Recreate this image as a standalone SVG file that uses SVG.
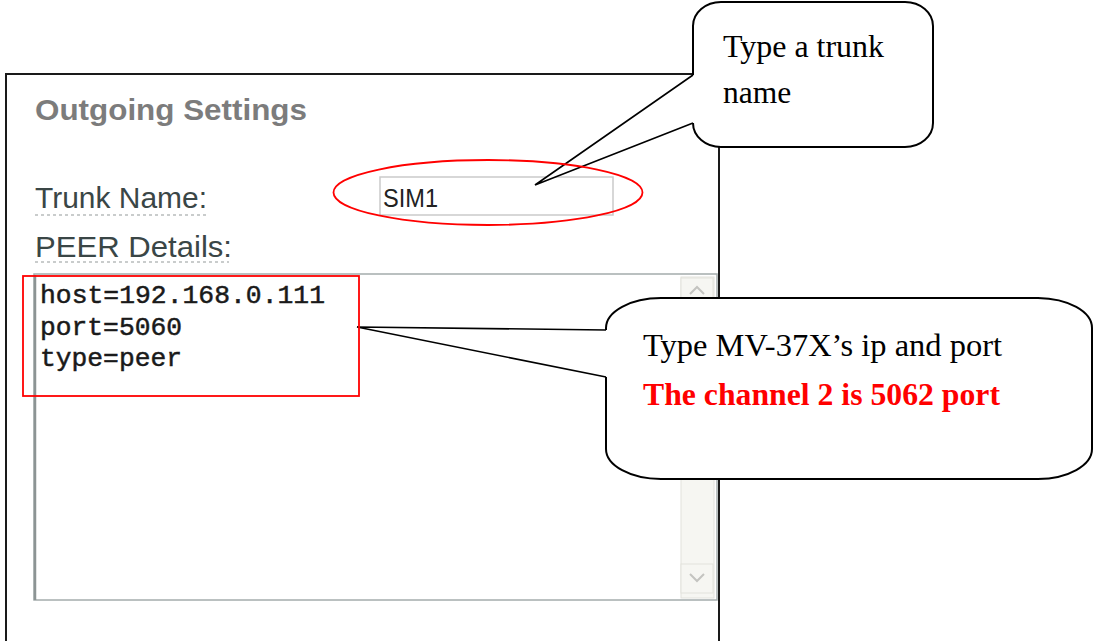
<svg xmlns="http://www.w3.org/2000/svg" width="1094" height="641" viewBox="0 0 1094 641">
<style>
.frame{fill:none;stroke:#1a1a1a;stroke-width:2}
.lbl{font-family:"Liberation Sans",Arial,sans-serif;fill:#3a4646;font-size:30px}
.mono{font-family:"Liberation Mono","Courier New",monospace;font-size:26px;fill:#1a1a1a;stroke:#1a1a1a;stroke-width:0.5}
.dots{stroke:#b8bcbc;stroke-width:1.5;stroke-dasharray:3 3}
.bubfill{fill:#fff;stroke:none}
.bubline{fill:none;stroke:#000;stroke-width:2;stroke-linejoin:round}
.ptr{fill:none;stroke:#000;stroke-width:1.6}
.ser{font-family:"Liberation Serif","Times New Roman",serif;font-size:31.5px;fill:#000}
.red{fill:#ff0000;font-weight:bold}
.hl{fill:none;stroke:#ff0000;stroke-width:1.8}
.sb{fill:#f6f6f2;stroke:#e2e2dc;stroke-width:1}
.chev{fill:none;stroke:#c4c4c0;stroke-width:2}
</style>
<rect width="1094" height="641" fill="#fff"/>
<g id="panel">
  <path class="frame" d="M6,641 V74 H719 V641"/>
  <text x="35" y="120" font-family="Liberation Sans,Arial,sans-serif" font-weight="bold" font-size="30" fill="#7c7c7c" textLength="272" lengthAdjust="spacingAndGlyphs">Outgoing Settings</text>
</g>
<g id="trunk-name">
  <text class="lbl" x="35" y="208" textLength="172" lengthAdjust="spacingAndGlyphs">Trunk Name:</text>
  <line class="dots" x1="35" y1="215" x2="206" y2="215"/>
  <rect x="380" y="177" width="233" height="38" fill="#fff" stroke="#cacaca" stroke-width="1.5"/>
  <text x="383" y="207" font-family="Liberation Sans,Arial,sans-serif" font-size="26" fill="#222" textLength="55" lengthAdjust="spacingAndGlyphs">SIM1</text>
</g>
<g id="peer-details">
  <text class="lbl" x="35" y="257" textLength="197" lengthAdjust="spacingAndGlyphs">PEER Details:</text>
  <line class="dots" x1="35" y1="262" x2="229" y2="262"/>
  <rect x="34" y="274" width="683" height="326" fill="#fff" stroke="#a4acac" stroke-width="1.5"/>
  <line x1="35" y1="275" x2="35" y2="600" stroke="#8c9494" stroke-width="2.5"/>
  <rect class="sb" x="681" y="277" width="33" height="321"/>
  <rect class="sb" x="681" y="278" width="32" height="24"/>
  <path class="chev" d="M690,294 L697,287 L704,294"/>
  <rect class="sb" x="681" y="564" width="32" height="29"/>
  <path class="chev" d="M690,574 L697,581 L704,574"/>
  <text class="mono" x="40" y="303" textLength="285" lengthAdjust="spacingAndGlyphs">host=192.168.0.111</text>
  <text class="mono" x="40" y="335" textLength="142" lengthAdjust="spacingAndGlyphs">port=5060</text>
  <text class="mono" x="40" y="366" textLength="142" lengthAdjust="spacingAndGlyphs">type=peer</text>
  <path class="frame" d="M719,274 V641"/>
</g>
<g id="callout-trunk">
  <path class="bubfill" d="M693,26 A28 24 0 0 1 721,2 H905 A28 24 0 0 1 933,26 V123 A28 24 0 0 1 905,147 H721 A28 24 0 0 1 693,123 L535,185 L693,75 Z"/>
  <path class="bubline" d="M693,75 V26 A28 24 0 0 1 721,2 H905 A28 24 0 0 1 933,26 V123 A28 24 0 0 1 905,147 H721 A28 24 0 0 1 693,123"/>
  <text class="ser" x="723" y="57" textLength="161" lengthAdjust="spacingAndGlyphs">Type a trunk</text>
  <text class="ser" x="723" y="103">name</text>
</g>
<g id="callout-peer">
  <path class="bubfill" d="M606,328 A55 30 0 0 1 661,298 H1038 A55 30 0 0 1 1092,328 V449 A55 30 0 0 1 1038,479 H661 A55 30 0 0 1 606,449 V377 L357,327 L606,330 Z"/>
  <path class="bubline" d="M606,330 V328 A55 30 0 0 1 661,298 H1038 A55 30 0 0 1 1092,328 V449 A55 30 0 0 1 1038,479 H661 A55 30 0 0 1 606,449 V377"/>
  <text class="ser" x="643" y="356" textLength="359" lengthAdjust="spacingAndGlyphs">Type MV-37X’s ip and port</text>
  <text class="ser red" x="643" y="405" textLength="357" lengthAdjust="spacingAndGlyphs">The channel 2 is 5062 port</text>
</g>
<g id="connectors">
  <polyline class="ptr" points="693,75 535,185 693,123"/>
  <polyline class="ptr" points="606,330 357,327 606,377"/>
</g>
<g id="highlights">
  <ellipse class="hl" cx="488" cy="192.5" rx="154.5" ry="32.5"/>
  <rect class="hl" x="23" y="276" width="336" height="120"/>
</g>
</svg>
